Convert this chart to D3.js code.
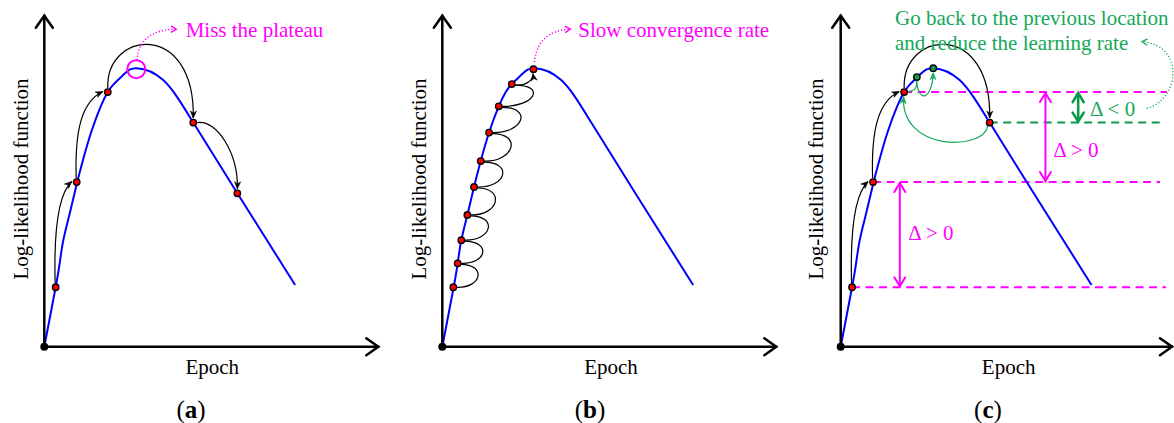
<!DOCTYPE html>
<html><head><meta charset="utf-8">
<script src="https://cdn.jsdelivr.net/npm/d3@7"></script>
<style>
body{margin:0;background:#fff}
svg{display:block}
text{font-family:"Liberation Serif","Times New Roman",serif}
</style>
</head><body><svg id="chart" width="1174" height="423"></svg>
<script>
// ---- data (epoch, log-likelihood) ----
const curveEpoch = [0, 3.4, 4.6, 5.7, 7.5, 9.5, 11.5, 14.0, 16.9, 19.0, 20.8, 24.0, 27.7, 35.6, 44.6, 57.8, 75.1];
const curveLL    = [0, 17.9, 25.1, 32.1, 39.7, 48.1, 55.9, 64.5, 72.4, 76.7, 79.1, 82.2, 83.9, 80.3, 67.5, 46.2, 18.6];

const stepsAEpoch = [3.4, 9.7, 19.0, 44.6, 57.8];
const stepsALL    = [17.9, 49.6, 76.7, 67.5, 46.2];

const stepsBEpoch = [3.3, 4.6, 5.7, 7.5, 9.5, 11.5, 14.0, 16.9, 20.8, 27.3];
const stepsBLL    = [17.9, 25.1, 32.1, 39.7, 48.1, 55.9, 64.5, 72.4, 79.1, 83.6];

const stepsCEpoch = [3.4, 9.7, 19.0, 44.6];
const stepsCLL    = [17.9, 49.6, 76.7, 67.5];
const retryCEpoch = [22.8, 27.7];
const retryCLL    = [81.2, 83.9];

const levelEndEpoch = [97.4, 95.6, 97.6];   // magenta dashed levels (steps 0,1,2)
const greenLevelEndEpoch = 96.2;            // green dashed level (step 3)
const deltaArrowEpoch = [17.7, 61.3, 71.1];  // positions of the Δ arrows

const panelLetters = ["a", "b", "c"];
const xAxisTitle = "Epoch";
const yAxisTitle = "Log-likelihood function";
const noteA = "Miss the plateau";
const noteB = "Slow convergence rate";
const noteC = ["Go back to the previous location", "and reduce the learning rate"];
const deltaPos = "Δ > 0", deltaNeg = "Δ < 0";

// ---- styles ----
const BLUE = "#0000ff", MAG = "#ff00ff", RED = "#ff0000";
const GREEN = "#14a858", GREEN_D = "#0b9a4c", GREEN_PT = "#119a4c";
const FS = 21;

const svg = d3.select("#chart");
const origins = [44.3, 442.3, 840.7];
const OY = 346.7;

function scales(ox) {
  return {
    x: d3.scaleLinear().domain([0, 100]).range([ox, ox + 334]),
    y: d3.scaleLinear().domain([0, 100]).range([OY, OY - 332])
  };
}

function head(g, x, y, ang, o) {
  const len = o.len || 7, w = o.w || 3, c = Math.cos(ang), s = Math.sin(ang);
  const bx = x - len * c, by = y - len * s, px = -s, py = c;
  if (o.open) {
    g.append("path")
      .attr("d", `M${bx + w * px},${by + w * py}L${x},${y}L${bx - w * px},${by - w * py}`)
      .attr("fill", "none").attr("stroke", o.color).attr("stroke-width", o.sw || 2)
      .attr("stroke-linecap", "round").attr("stroke-linejoin", "miter");
  } else {
    const ix = x - 0.7 * len * c, iy = y - 0.7 * len * s;
    g.append("path")
      .attr("d", `M${x},${y}L${bx + w * px},${by + w * py}L${ix},${iy}L${bx - w * px},${by - w * py}Z`)
      .attr("fill", o.color).attr("stroke", o.color).attr("stroke-width", 0.6).attr("stroke-linejoin", "round");
  }
}

function arc(g, s, c1, c2, e, o) {
  const p = d3.path();
  p.moveTo(s[0], s[1]);
  p.bezierCurveTo(c1[0], c1[1], c2[0], c2[1], e[0], e[1]);
  const el = g.append("path").attr("d", p.toString()).attr("fill", "none")
    .attr("stroke", o.color).attr("stroke-width", o.sw || 1.2);
  if (o.dash) el.attr("stroke-dasharray", o.dash);
  if (o.head !== false) head(g, e[0], e[1], Math.atan2(e[1] - c2[1], e[0] - c2[0]), o.headOpts || {color: o.color});
}

function upArc(g, P0, P1) {
  const s = [P0[0] - 0.5, P0[1] - 4], e = [P1[0] - 5, P1[1] - 0.5];
  const H = s[1] - e[1];
  arc(g, s, [s[0] - 1.5, s[1] - 0.55 * H], [s[0] + 0.2 * (e[0] - s[0]), e[1] + 0.12 * H], e, {color: "#000"});
}
function overArc(g, P0, P1) {
  const s = [P0[0], P0[1] - 4], e = [P1[0], P1[1] - 4.5];
  arc(g, s, [s[0] - 2, s[1] - 58], [e[0] + 2, e[1] - 98], e, {color: "#000"});
}

function drawAxes(g, sc, ox, i) {
  const x0 = sc.x(0), y0 = sc.y(0);
  const xEnd = Math.min(ox + 335, 1173), yEnd = OY - 332;
  g.append("line").attr("x1", x0).attr("y1", y0).attr("x2", xEnd).attr("y2", y0)
    .attr("stroke", "#000").attr("stroke-width", 2.5);
  g.append("line").attr("x1", x0).attr("y1", y0).attr("x2", x0).attr("y2", yEnd)
    .attr("stroke", "#000").attr("stroke-width", 2.5);
  head(g, xEnd - 1, y0, 0, {open: true, len: 12, w: 8.5, color: "#000", sw: 2.5});
  head(g, x0, yEnd + 1, -Math.PI / 2, {open: true, len: 12, w: 8.5, color: "#000", sw: 2.5});
  g.append("text").attr("x", [212.3, 611, 1008.7][i]).attr("y", 374).attr("text-anchor", "middle")
    .attr("font-size", FS).attr("fill", "#000").text(xAxisTitle);
  g.append("text").attr("transform", `translate(${[20.5, 419, 816][i]},179) rotate(-90)`)
    .attr("text-anchor", "middle").attr("dominant-baseline", "central")
    .attr("font-size", FS).attr("fill", "#000").text(yAxisTitle);
  const lab = g.append("text").attr("x", [191, 590, 988][i]).attr("y", 418).attr("text-anchor", "middle")
    .attr("font-size", 25).attr("fill", "#000");
  lab.append("tspan").text("(");
  lab.append("tspan").attr("font-weight", "bold").text(panelLetters[i]);
  lab.append("tspan").text(")");
}

function drawCurve(g, sc) {
  const line = d3.line().x(d => sc.x(d[0])).y(d => sc.y(d[1])).curve(d3.curveNatural);
  g.append("path").datum(curveEpoch.map((e, k) => [e, curveLL[k]])).attr("d", line)
    .attr("fill", "none").attr("stroke", BLUE).attr("stroke-width", 2);
}

function dots(g, pts, fill) {
  g.selectAll(null).data(pts).join("circle")
    .attr("cx", d => d[0]).attr("cy", d => d[1]).attr("r", 3.2)
    .attr("fill", fill).attr("stroke", "#000").attr("stroke-width", 1.4);
}
function originDot(g, sc) {
  g.append("circle").attr("cx", sc.x(0)).attr("cy", sc.y(0)).attr("r", 4).attr("fill", "#000");
}

// ================= Panel (a) =================
{
  const ox = origins[0], sc = scales(ox), g = svg.append("g");
  drawCurve(g, sc);
  drawAxes(g, sc, ox, 0);
  const P = stepsAEpoch.map((e, k) => [sc.x(e), sc.y(stepsALL[k])]);
  upArc(g, P[0], P[1]);
  upArc(g, P[1], P[2]);
  overArc(g, P[2], P[3]);
  {
    const s = [P[3][0] + 4, P[3][1]], e = [P[4][0], P[4][1] - 4.5];
    arc(g, s, [s[0] + 20, s[1] - 3], [e[0] + 1, e[1] - 35], e, {color: "#000"});
  }
  // plateau marker at the curve's peak
  const pk = d3.maxIndex(curveLL);
  const cx = sc.x(curveEpoch[pk]) - 0.5, cy = sc.y(curveLL[pk]) + 1;
  g.append("circle").attr("cx", cx).attr("cy", cy).attr("r", 9)
    .attr("fill", "none").attr("stroke", MAG).attr("stroke-width", 2);
  arc(g, [cx + 1, cy - 9], [cx + 1, cy - 30], [cx + 18, cy - 40], [cx + 40, cy - 40],
      {color: MAG, sw: 1.5, dash: "1.2,2", headOpts: {open: true, len: 5, w: 3, color: MAG, sw: 1.3}});
  dots(g, P, RED);
  originDot(g, sc);
  g.append("text").attr("x", 185.7).attr("y", 37.3).attr("font-size", FS).attr("fill", MAG).text(noteA);
}

// ================= Panel (b) =================
{
  const ox = origins[1], sc = scales(ox), g = svg.append("g");
  drawCurve(g, sc);
  drawAxes(g, sc, ox, 1);
  const P = stepsBEpoch.map((e, k) => [sc.x(e), sc.y(stepsBLL[k])]);
  for (let k = 0; k < P.length - 2; k++) {
    const A = P[k], B = P[k + 1], c = 29 + 0.9 * k;
    arc(g, [A[0] + 3, A[1]], [A[0] + c, A[1] + 1], [B[0] + c, B[1] + 1], [B[0] + 3, B[1] + 1],
        {color: "#000", head: false});
  }
  {
    const A = P[P.length - 2], B = P[P.length - 1];
    const s = [A[0] + 4, A[1] + 1], e = [B[0] - 0.5, B[1] + 4.5];
    arc(g, s, [s[0] + 10, s[1] + 1], [e[0] + 1, e[1] + 6], e, {color: "#000"});
  }
  const T = P[P.length - 1];
  arc(g, [T[0] + 1, T[1] - 7], [T[0] + 3, T[1] - 28], [T[0] + 15, T[1] - 39], [T[0] + 37, T[1] - 40],
      {color: MAG, sw: 1.5, dash: "1.2,2", headOpts: {open: true, len: 5, w: 3, color: MAG, sw: 1.3}});
  dots(g, P, RED);
  originDot(g, sc);
  g.append("text").attr("x", 578.3).attr("y", 37.3).attr("font-size", FS).attr("fill", MAG).text(noteB);
}

// ================= Panel (c) =================
{
  const ox = origins[2], sc = scales(ox), g = svg.append("g");
  const P = stepsCEpoch.map((e, k) => [sc.x(e), sc.y(stepsCLL[k])]);
  const G = retryCEpoch.map((e, k) => [sc.x(e), sc.y(retryCLL[k])]);
  // dashed levels
  [0, 1, 2].forEach(k => {
    g.append("line").attr("x1", P[k][0]).attr("x2", sc.x(levelEndEpoch[k]))
      .attr("y1", P[k][1]).attr("y2", P[k][1])
      .attr("stroke", MAG).attr("stroke-width", 2).attr("stroke-dasharray", "8,5.5");
  });
  g.append("line").attr("x1", P[3][0]).attr("x2", sc.x(greenLevelEndEpoch))
    .attr("y1", P[3][1]).attr("y2", P[3][1])
    .attr("stroke", GREEN_D).attr("stroke-width", 2).attr("stroke-dasharray", "8,5.5");
  drawCurve(g, sc);
  drawAxes(g, sc, ox, 2);
  upArc(g, P[0], P[1]);
  upArc(g, P[1], P[2]);
  overArc(g, P[2], P[3]);
  // green retry arcs
  {
    const s = [P[2][0] + 4, P[2][1] - 0.5], e = [G[0][0] - 0.5, G[0][1] + 4];
    arc(g, s, [s[0] + 7, s[1] - 1], [e[0] + 1, e[1] + 7], e, {color: GREEN, head: false});
  }
  {
    const s = [G[0][0], G[0][1] + 4], e = [G[1][0], G[1][1] + 4.5];
    arc(g, s, [s[0] + 1, s[1] + 22], [e[0] - 1, e[1] + 28], e, {color: GREEN});
  }
  {
    const s = [P[3][0] - 2, P[3][1] + 3.5], e = [P[2][0] - 0.5, P[2][1] + 4.5];
    arc(g, s, [s[0] - 4, s[1] + 25], [e[0] - 4, e[1] + 55], e, {color: GREEN});
  }
  // Δ double arrows
  function dbl(xe, la, lb, color, sw) {
    const x = sc.x(xe), y1 = sc.y(la), y2 = sc.y(lb);
    g.append("line").attr("x1", x).attr("x2", x).attr("y1", y1 + 1).attr("y2", y2 - 1)
      .attr("stroke", color).attr("stroke-width", sw);
    head(g, x, y1 + 1, -Math.PI / 2, {open: true, len: 9, w: 5.5, color, sw});
    head(g, x, y2 - 1, Math.PI / 2, {open: true, len: 9, w: 5.5, color, sw});
  }
  dbl(deltaArrowEpoch[0], stepsCLL[1], stepsCLL[0], MAG, 2);
  dbl(deltaArrowEpoch[1], stepsCLL[2], stepsCLL[1], MAG, 2);
  dbl(deltaArrowEpoch[2], stepsCLL[2], stepsCLL[3], GREEN_D, 2.6);
  dots(g, P, RED);
  dots(g, G, GREEN_PT);
  originDot(g, sc);
  g.append("text").attr("x", 908.3).attr("y", 240).attr("font-size", FS).attr("fill", MAG).text(deltaPos);
  g.append("text").attr("x", 1053.3).attr("y", 156.7).attr("font-size", FS).attr("fill", MAG).text(deltaPos);
  g.append("text").attr("x", 1090).attr("y", 115.7).attr("font-size", FS).attr("fill", GREEN).text(deltaNeg);
  g.append("text").attr("x", 895).attr("y", 25).attr("font-size", FS).attr("fill", GREEN).text(noteC[0]);
  g.append("text").attr("x", 895).attr("y", 50).attr("font-size", FS).attr("fill", GREEN).text(noteC[1]);
  arc(g, [1146.7, 108.3], [1180, 100], [1185, 45], [1142, 41.7],
      {color: GREEN, sw: 1.3, dash: "1.2,2", headOpts: {open: true, len: 5, w: 3, color: GREEN, sw: 1.3}});
}
</script>
</body></html>
